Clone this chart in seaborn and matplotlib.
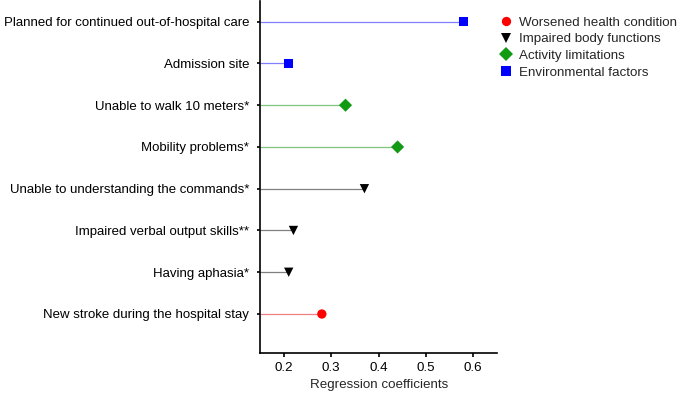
import matplotlib
matplotlib.use('Agg')
from matplotlib import pyplot as plt
import seaborn as sns
import pandas as pd

sns.set_style('ticks')
plt.rcParams['font.family'] = ['Liberation Sans', 'DejaVu Sans']

factors = [
    'Planned for continued out-of-hospital care',
    'Admission site',
    'Unable to walk 10 meters*',
    'Mobility problems*',
    'Unable to understanding the commands*',
    'Impaired verbal output skills**',
    'Having aphasia*',
    'New stroke during the hospital stay',
]
coefs = [0.58, 0.21, 0.33, 0.44, 0.37, 0.22, 0.21, 0.28]
groups = [
    'Environmental factors', 'Environmental factors',
    'Activity limitations', 'Activity limitations',
    'Impaired body functions', 'Impaired body functions', 'Impaired body functions',
    'Worsened health condition',
]
group_order = ['Worsened health condition', 'Impaired body functions',
               'Activity limitations', 'Environmental factors']

marker_colors = {'Worsened health condition': '#ff0000', 'Impaired body functions': '#000000',
                 'Activity limitations': '#139a13', 'Environmental factors': '#0000ff'}
line_colors = {'Worsened health condition': '#f08080', 'Impaired body functions': '#808080',
               'Activity limitations': '#7fc47f', 'Environmental factors': '#8080ff'}
markers = {'Worsened health condition': 'o', 'Impaired body functions': 'v',
           'Activity limitations': 'D', 'Environmental factors': 's'}

df = pd.DataFrame({'factor': factors, 'coef': coefs, 'group': groups})
df['pos'] = range(len(df))

fig = plt.figure(figsize=(6.85, 3.96), dpi=100)
ax = fig.add_axes([0.38, 0.109, 0.3455, 0.889])

xmin = 0.15
ax.hlines(df['pos'], xmin, df['coef'], colors=[line_colors[g] for g in df['group']],
          linewidth=0.9, zorder=1)
sns.scatterplot(data=df, x='coef', y='pos', hue='group', style='group',
                hue_order=group_order, style_order=group_order,
                palette=marker_colors, markers=markers, s=45, linewidth=0,
                ax=ax, zorder=3, clip_on=False)

ax.set_xlim(xmin, 0.65)
ax.set_ylim(7.93, -0.5)
ax.set_xticks([0.2, 0.3, 0.4, 0.5, 0.6])
ax.set_xticklabels(['0.2', '0.3', '0.4', '0.5', '0.6'])
ax.set_yticks(df['pos'])
ax.set_yticklabels(df['factor'])
ax.tick_params(axis='both', labelsize=9.6, length=3, width=1.2, color='black', labelcolor='black')
ax.tick_params(axis='y', labelsize=9.5, length=2.5, pad=5.5)
ax.set_xlabel('Regression coefficients', fontsize=9.6, labelpad=4)
ax.set_ylabel('')
for side in ['top', 'right']:
    ax.spines[side].set_visible(False)
for side in ['left', 'bottom']:
    ax.spines[side].set_linewidth(1.2)
    ax.spines[side].set_color('black')

ax.legend(loc='upper left', bbox_to_anchor=(0.725, 0.965), bbox_transform=fig.transFigure,
          frameon=False, fontsize=9.6, handlelength=1.0, handletextpad=0.45,
          labelspacing=0.32, borderaxespad=0.0, borderpad=0.2, title=None)

fig.savefig('out.png', dpi=100)
